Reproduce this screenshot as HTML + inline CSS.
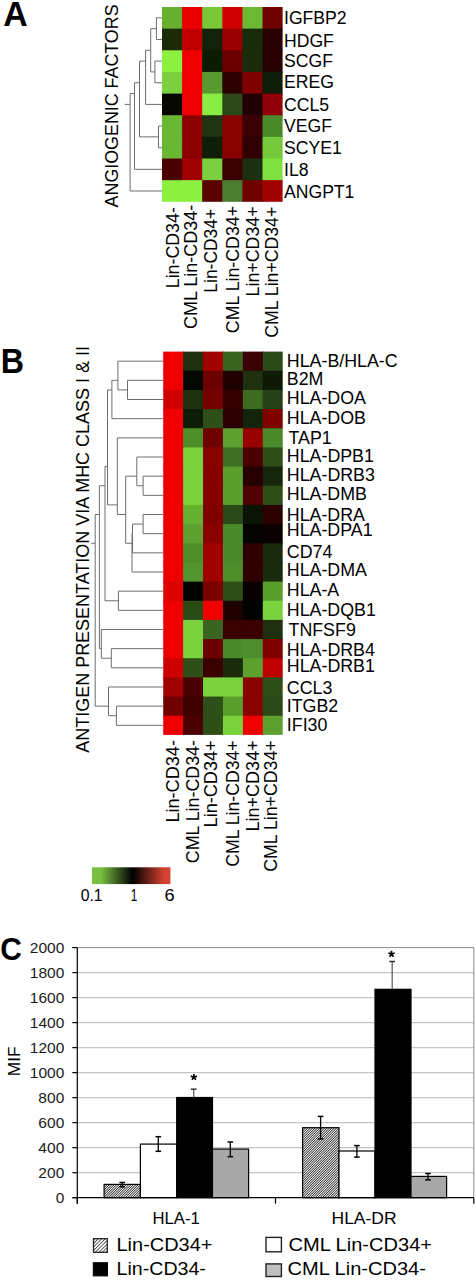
<!DOCTYPE html>
<html><head><meta charset="utf-8"><style>
html,body{margin:0;padding:0;background:#fff;}
svg{display:block;}
text{font-family:"Liberation Sans", sans-serif;}
</style></head><body>
<svg width="476" height="1280" viewBox="0 0 476 1280">
<rect width="476" height="1280" fill="#fff"/>
<rect x="162.00" y="7.00" width="21.10" height="22.64" fill="#68b030" />
<rect x="182.10" y="7.00" width="21.10" height="22.64" fill="#e60000" />
<rect x="202.20" y="7.00" width="21.10" height="22.64" fill="#78c836" />
<rect x="222.30" y="7.00" width="21.10" height="22.64" fill="#d00000" />
<rect x="242.40" y="7.00" width="21.10" height="22.64" fill="#6cb834" />
<rect x="262.50" y="7.00" width="20.10" height="22.64" fill="#700000" />
<rect x="162.00" y="28.64" width="21.10" height="22.64" fill="#1c2a08" />
<rect x="182.10" y="28.64" width="21.10" height="22.64" fill="#c00000" />
<rect x="202.20" y="28.64" width="21.10" height="22.64" fill="#12220a" />
<rect x="222.30" y="28.64" width="21.10" height="22.64" fill="#9a0000" />
<rect x="242.40" y="28.64" width="21.10" height="22.64" fill="#182c0c" />
<rect x="262.50" y="28.64" width="20.10" height="22.64" fill="#280004" />
<rect x="162.00" y="50.29" width="21.10" height="22.64" fill="#8cf040" />
<rect x="182.10" y="50.29" width="21.10" height="22.64" fill="#ee0000" />
<rect x="202.20" y="50.29" width="21.10" height="22.64" fill="#0c1c04" />
<rect x="222.30" y="50.29" width="21.10" height="22.64" fill="#6a0000" />
<rect x="242.40" y="50.29" width="21.10" height="22.64" fill="#1a2c0c" />
<rect x="262.50" y="50.29" width="20.10" height="22.64" fill="#260000" />
<rect x="162.00" y="71.93" width="21.10" height="22.64" fill="#7cd040" />
<rect x="182.10" y="71.93" width="21.10" height="22.64" fill="#ee0000" />
<rect x="202.20" y="71.93" width="21.10" height="22.64" fill="#5a9830" />
<rect x="222.30" y="71.93" width="21.10" height="22.64" fill="#2a0000" />
<rect x="242.40" y="71.93" width="21.10" height="22.64" fill="#800000" />
<rect x="262.50" y="71.93" width="20.10" height="22.64" fill="#0e1e08" />
<rect x="162.00" y="93.58" width="21.10" height="22.64" fill="#060800" />
<rect x="182.10" y="93.58" width="21.10" height="22.64" fill="#ee0000" />
<rect x="202.20" y="93.58" width="21.10" height="22.64" fill="#88ee44" />
<rect x="222.30" y="93.58" width="21.10" height="22.64" fill="#2c4818" />
<rect x="242.40" y="93.58" width="21.10" height="22.64" fill="#200004" />
<rect x="262.50" y="93.58" width="20.10" height="22.64" fill="#900008" />
<rect x="162.00" y="115.22" width="21.10" height="22.64" fill="#6ab832" />
<rect x="182.10" y="115.22" width="21.10" height="22.64" fill="#8a0000" />
<rect x="202.20" y="115.22" width="21.10" height="22.64" fill="#1e3410" />
<rect x="222.30" y="115.22" width="21.10" height="22.64" fill="#880000" />
<rect x="242.40" y="115.22" width="21.10" height="22.64" fill="#3a0004" />
<rect x="262.50" y="115.22" width="20.10" height="22.64" fill="#4a8a2a" />
<rect x="162.00" y="136.87" width="21.10" height="22.64" fill="#6ab832" />
<rect x="182.10" y="136.87" width="21.10" height="22.64" fill="#8a0000" />
<rect x="202.20" y="136.87" width="21.10" height="22.64" fill="#0e1e08" />
<rect x="222.30" y="136.87" width="21.10" height="22.64" fill="#880000" />
<rect x="242.40" y="136.87" width="21.10" height="22.64" fill="#2e0004" />
<rect x="262.50" y="136.87" width="20.10" height="22.64" fill="#74c83a" />
<rect x="162.00" y="158.51" width="21.10" height="22.64" fill="#4a0000" />
<rect x="182.10" y="158.51" width="21.10" height="22.64" fill="#a00000" />
<rect x="202.20" y="158.51" width="21.10" height="22.64" fill="#7cd040" />
<rect x="222.30" y="158.51" width="21.10" height="22.64" fill="#3a0000" />
<rect x="242.40" y="158.51" width="21.10" height="22.64" fill="#1a3010" />
<rect x="262.50" y="158.51" width="20.10" height="22.64" fill="#80e040" />
<rect x="162.00" y="180.16" width="21.10" height="21.64" fill="#8cf040" />
<rect x="182.10" y="180.16" width="21.10" height="21.64" fill="#8cf040" />
<rect x="202.20" y="180.16" width="21.10" height="21.64" fill="#5a0000" />
<rect x="222.30" y="180.16" width="21.10" height="21.64" fill="#4a7e2e" />
<rect x="242.40" y="180.16" width="21.10" height="21.64" fill="#700000" />
<rect x="262.50" y="180.16" width="20.10" height="21.64" fill="#a00000" />
<rect x="163.20" y="351.60" width="20.92" height="20.16" fill="#ee0000" />
<rect x="183.12" y="351.60" width="20.92" height="20.16" fill="#1e3010" />
<rect x="203.03" y="351.60" width="20.92" height="20.16" fill="#a00000" />
<rect x="222.95" y="351.60" width="20.92" height="20.16" fill="#3a6420" />
<rect x="242.87" y="351.60" width="20.92" height="20.16" fill="#3a0004" />
<rect x="262.78" y="351.60" width="19.92" height="20.16" fill="#2a4a1a" />
<rect x="163.20" y="370.77" width="20.92" height="20.16" fill="#ee0000" />
<rect x="183.12" y="370.77" width="20.92" height="20.16" fill="#040800" />
<rect x="203.03" y="370.77" width="20.92" height="20.16" fill="#6c0000" />
<rect x="222.95" y="370.77" width="20.92" height="20.16" fill="#1e0000" />
<rect x="242.87" y="370.77" width="20.92" height="20.16" fill="#1e3010" />
<rect x="262.78" y="370.77" width="19.92" height="20.16" fill="#0e1a06" />
<rect x="163.20" y="389.93" width="20.92" height="20.16" fill="#d00000" />
<rect x="183.12" y="389.93" width="20.92" height="20.16" fill="#1e3010" />
<rect x="203.03" y="389.93" width="20.92" height="20.16" fill="#760000" />
<rect x="222.95" y="389.93" width="20.92" height="20.16" fill="#360000" />
<rect x="242.87" y="389.93" width="20.92" height="20.16" fill="#3e6a22" />
<rect x="262.78" y="389.93" width="19.92" height="20.16" fill="#264018" />
<rect x="163.20" y="409.10" width="20.92" height="20.16" fill="#f00000" />
<rect x="183.12" y="409.10" width="20.92" height="20.16" fill="#0e1c08" />
<rect x="203.03" y="409.10" width="20.92" height="20.16" fill="#2e5018" />
<rect x="222.95" y="409.10" width="20.92" height="20.16" fill="#2a0000" />
<rect x="242.87" y="409.10" width="20.92" height="20.16" fill="#14240c" />
<rect x="262.78" y="409.10" width="19.92" height="20.16" fill="#800000" />
<rect x="163.20" y="428.26" width="20.92" height="20.16" fill="#ee0000" />
<rect x="183.12" y="428.26" width="20.92" height="20.16" fill="#4e8e28" />
<rect x="203.03" y="428.26" width="20.92" height="20.16" fill="#700000" />
<rect x="222.95" y="428.26" width="20.92" height="20.16" fill="#5ea030" />
<rect x="242.87" y="428.26" width="20.92" height="20.16" fill="#980000" />
<rect x="262.78" y="428.26" width="19.92" height="20.16" fill="#4a8a2a" />
<rect x="163.20" y="447.43" width="20.92" height="20.16" fill="#ee0000" />
<rect x="183.12" y="447.43" width="20.92" height="20.16" fill="#7ad23c" />
<rect x="203.03" y="447.43" width="20.92" height="20.16" fill="#880000" />
<rect x="222.95" y="447.43" width="20.92" height="20.16" fill="#3e6e22" />
<rect x="242.87" y="447.43" width="20.92" height="20.16" fill="#4a0000" />
<rect x="262.78" y="447.43" width="19.92" height="20.16" fill="#2e5018" />
<rect x="163.20" y="466.59" width="20.92" height="20.16" fill="#ee0000" />
<rect x="183.12" y="466.59" width="20.92" height="20.16" fill="#7ad23c" />
<rect x="203.03" y="466.59" width="20.92" height="20.16" fill="#860000" />
<rect x="222.95" y="466.59" width="20.92" height="20.16" fill="#5a9e2e" />
<rect x="242.87" y="466.59" width="20.92" height="20.16" fill="#260000" />
<rect x="262.78" y="466.59" width="19.92" height="20.16" fill="#16260c" />
<rect x="163.20" y="485.75" width="20.92" height="20.16" fill="#ee0000" />
<rect x="183.12" y="485.75" width="20.92" height="20.16" fill="#7ad23c" />
<rect x="203.03" y="485.75" width="20.92" height="20.16" fill="#860000" />
<rect x="222.95" y="485.75" width="20.92" height="20.16" fill="#5a9e2e" />
<rect x="242.87" y="485.75" width="20.92" height="20.16" fill="#500000" />
<rect x="262.78" y="485.75" width="19.92" height="20.16" fill="#2e5018" />
<rect x="163.20" y="504.92" width="20.92" height="20.16" fill="#ee0000" />
<rect x="183.12" y="504.92" width="20.92" height="20.16" fill="#66b030" />
<rect x="203.03" y="504.92" width="20.92" height="20.16" fill="#800000" />
<rect x="222.95" y="504.92" width="20.92" height="20.16" fill="#2a4a1a" />
<rect x="242.87" y="504.92" width="20.92" height="20.16" fill="#0a1404" />
<rect x="262.78" y="504.92" width="19.92" height="20.16" fill="#2a0000" />
<rect x="163.20" y="524.09" width="20.92" height="20.16" fill="#ee0000" />
<rect x="183.12" y="524.09" width="20.92" height="20.16" fill="#5ea030" />
<rect x="203.03" y="524.09" width="20.92" height="20.16" fill="#880000" />
<rect x="222.95" y="524.09" width="20.92" height="20.16" fill="#4a8a2a" />
<rect x="242.87" y="524.09" width="20.92" height="20.16" fill="#040400" />
<rect x="262.78" y="524.09" width="19.92" height="20.16" fill="#0a0000" />
<rect x="163.20" y="543.25" width="20.92" height="20.16" fill="#ee0000" />
<rect x="183.12" y="543.25" width="20.92" height="20.16" fill="#4e8e2a" />
<rect x="203.03" y="543.25" width="20.92" height="20.16" fill="#a00000" />
<rect x="222.95" y="543.25" width="20.92" height="20.16" fill="#4a8a2a" />
<rect x="242.87" y="543.25" width="20.92" height="20.16" fill="#300000" />
<rect x="262.78" y="543.25" width="19.92" height="20.16" fill="#1a2a0c" />
<rect x="163.20" y="562.41" width="20.92" height="20.16" fill="#ee0000" />
<rect x="183.12" y="562.41" width="20.92" height="20.16" fill="#529430" />
<rect x="203.03" y="562.41" width="20.92" height="20.16" fill="#a00000" />
<rect x="222.95" y="562.41" width="20.92" height="20.16" fill="#4e8e2a" />
<rect x="242.87" y="562.41" width="20.92" height="20.16" fill="#300000" />
<rect x="262.78" y="562.41" width="19.92" height="20.16" fill="#1a2a0c" />
<rect x="163.20" y="581.58" width="20.92" height="20.16" fill="#dd0000" />
<rect x="183.12" y="581.58" width="20.92" height="20.16" fill="#020400" />
<rect x="203.03" y="581.58" width="20.92" height="20.16" fill="#7a0000" />
<rect x="222.95" y="581.58" width="20.92" height="20.16" fill="#2e5018" />
<rect x="242.87" y="581.58" width="20.92" height="20.16" fill="#080000" />
<rect x="262.78" y="581.58" width="19.92" height="20.16" fill="#5a9e2e" />
<rect x="163.20" y="600.75" width="20.92" height="20.16" fill="#ee0000" />
<rect x="183.12" y="600.75" width="20.92" height="20.16" fill="#2a4a16" />
<rect x="203.03" y="600.75" width="20.92" height="20.16" fill="#ee0000" />
<rect x="222.95" y="600.75" width="20.92" height="20.16" fill="#1e0000" />
<rect x="242.87" y="600.75" width="20.92" height="20.16" fill="#020400" />
<rect x="262.78" y="600.75" width="19.92" height="20.16" fill="#7ad23c" />
<rect x="163.20" y="619.91" width="20.92" height="20.16" fill="#ee0000" />
<rect x="183.12" y="619.91" width="20.92" height="20.16" fill="#7ad23c" />
<rect x="203.03" y="619.91" width="20.92" height="20.16" fill="#3a6420" />
<rect x="222.95" y="619.91" width="20.92" height="20.16" fill="#3a0000" />
<rect x="242.87" y="619.91" width="20.92" height="20.16" fill="#3a0000" />
<rect x="262.78" y="619.91" width="19.92" height="20.16" fill="#1e3010" />
<rect x="163.20" y="639.08" width="20.92" height="20.16" fill="#ee0000" />
<rect x="183.12" y="639.08" width="20.92" height="20.16" fill="#7ad23c" />
<rect x="203.03" y="639.08" width="20.92" height="20.16" fill="#6a0000" />
<rect x="222.95" y="639.08" width="20.92" height="20.16" fill="#4a8a2a" />
<rect x="242.87" y="639.08" width="20.92" height="20.16" fill="#4e8e2c" />
<rect x="262.78" y="639.08" width="19.92" height="20.16" fill="#800000" />
<rect x="163.20" y="658.24" width="20.92" height="20.16" fill="#cc0000" />
<rect x="183.12" y="658.24" width="20.92" height="20.16" fill="#2e5018" />
<rect x="203.03" y="658.24" width="20.92" height="20.16" fill="#3a0000" />
<rect x="222.95" y="658.24" width="20.92" height="20.16" fill="#1a2c0c" />
<rect x="242.87" y="658.24" width="20.92" height="20.16" fill="#5ea030" />
<rect x="262.78" y="658.24" width="19.92" height="20.16" fill="#c00000" />
<rect x="163.20" y="677.40" width="20.92" height="20.16" fill="#a00000" />
<rect x="183.12" y="677.40" width="20.92" height="20.16" fill="#4a0000" />
<rect x="203.03" y="677.40" width="20.92" height="20.16" fill="#7ad23c" />
<rect x="222.95" y="677.40" width="20.92" height="20.16" fill="#7ad23c" />
<rect x="242.87" y="677.40" width="20.92" height="20.16" fill="#880000" />
<rect x="262.78" y="677.40" width="19.92" height="20.16" fill="#2e5018" />
<rect x="163.20" y="696.57" width="20.92" height="20.16" fill="#700000" />
<rect x="183.12" y="696.57" width="20.92" height="20.16" fill="#400000" />
<rect x="203.03" y="696.57" width="20.92" height="20.16" fill="#2e5018" />
<rect x="222.95" y="696.57" width="20.92" height="20.16" fill="#5a9e2e" />
<rect x="242.87" y="696.57" width="20.92" height="20.16" fill="#880000" />
<rect x="262.78" y="696.57" width="19.92" height="20.16" fill="#2a4a18" />
<rect x="163.20" y="715.74" width="20.92" height="19.16" fill="#ee0000" />
<rect x="183.12" y="715.74" width="20.92" height="19.16" fill="#4a0000" />
<rect x="203.03" y="715.74" width="20.92" height="19.16" fill="#2e5018" />
<rect x="222.95" y="715.74" width="20.92" height="19.16" fill="#7ad23c" />
<rect x="242.87" y="715.74" width="20.92" height="19.16" fill="#ee0000" />
<rect x="262.78" y="715.74" width="19.92" height="19.16" fill="#5ea030" />
<line x1="156.40" y1="17.82" x2="162.00" y2="17.82" stroke="#6e6e6e" stroke-width="1" />
<line x1="156.40" y1="39.47" x2="162.00" y2="39.47" stroke="#6e6e6e" stroke-width="1" />
<line x1="156.40" y1="17.82" x2="156.40" y2="39.47" stroke="#6e6e6e" stroke-width="1" />
<line x1="154.90" y1="61.11" x2="162.00" y2="61.11" stroke="#6e6e6e" stroke-width="1" />
<line x1="154.90" y1="82.76" x2="162.00" y2="82.76" stroke="#6e6e6e" stroke-width="1" />
<line x1="154.90" y1="61.11" x2="154.90" y2="82.76" stroke="#6e6e6e" stroke-width="1" />
<line x1="150.70" y1="28.64" x2="156.40" y2="28.64" stroke="#6e6e6e" stroke-width="1" />
<line x1="150.70" y1="71.93" x2="154.90" y2="71.93" stroke="#6e6e6e" stroke-width="1" />
<line x1="150.70" y1="28.64" x2="150.70" y2="71.93" stroke="#6e6e6e" stroke-width="1" />
<line x1="145.60" y1="50.29" x2="150.70" y2="50.29" stroke="#6e6e6e" stroke-width="1" />
<line x1="145.60" y1="104.40" x2="162.00" y2="104.40" stroke="#6e6e6e" stroke-width="1" />
<line x1="145.60" y1="50.29" x2="145.60" y2="104.40" stroke="#6e6e6e" stroke-width="1" />
<line x1="158.50" y1="126.04" x2="162.00" y2="126.04" stroke="#6e6e6e" stroke-width="1" />
<line x1="158.50" y1="147.69" x2="162.00" y2="147.69" stroke="#6e6e6e" stroke-width="1" />
<line x1="158.50" y1="126.04" x2="158.50" y2="147.69" stroke="#6e6e6e" stroke-width="1" />
<line x1="139.50" y1="61.11" x2="145.60" y2="61.11" stroke="#6e6e6e" stroke-width="1" />
<line x1="139.50" y1="136.87" x2="158.50" y2="136.87" stroke="#6e6e6e" stroke-width="1" />
<line x1="139.50" y1="61.11" x2="139.50" y2="136.87" stroke="#6e6e6e" stroke-width="1" />
<line x1="134.50" y1="82.76" x2="139.50" y2="82.76" stroke="#6e6e6e" stroke-width="1" />
<line x1="134.50" y1="169.33" x2="162.00" y2="169.33" stroke="#6e6e6e" stroke-width="1" />
<line x1="134.50" y1="82.76" x2="134.50" y2="169.33" stroke="#6e6e6e" stroke-width="1" />
<line x1="130.10" y1="93.58" x2="134.50" y2="93.58" stroke="#6e6e6e" stroke-width="1" />
<line x1="130.10" y1="190.98" x2="162.00" y2="190.98" stroke="#6e6e6e" stroke-width="1" />
<line x1="130.10" y1="93.58" x2="130.10" y2="190.98" stroke="#6e6e6e" stroke-width="1" />
<line x1="124.80" y1="104.40" x2="130.10" y2="104.40" stroke="#6e6e6e" stroke-width="1" />
<line x1="127.50" y1="380.35" x2="163.20" y2="380.35" stroke="#6e6e6e" stroke-width="1" />
<line x1="127.50" y1="399.51" x2="163.20" y2="399.51" stroke="#6e6e6e" stroke-width="1" />
<line x1="127.50" y1="380.35" x2="127.50" y2="399.51" stroke="#6e6e6e" stroke-width="1" />
<line x1="117.90" y1="361.18" x2="163.20" y2="361.18" stroke="#6e6e6e" stroke-width="1" />
<line x1="117.90" y1="389.93" x2="127.50" y2="389.93" stroke="#6e6e6e" stroke-width="1" />
<line x1="117.90" y1="361.18" x2="117.90" y2="389.93" stroke="#6e6e6e" stroke-width="1" />
<line x1="111.90" y1="380.35" x2="117.90" y2="380.35" stroke="#6e6e6e" stroke-width="1" />
<line x1="111.90" y1="418.68" x2="163.20" y2="418.68" stroke="#6e6e6e" stroke-width="1" />
<line x1="111.90" y1="380.35" x2="111.90" y2="418.68" stroke="#6e6e6e" stroke-width="1" />
<line x1="143.10" y1="476.17" x2="163.20" y2="476.17" stroke="#6e6e6e" stroke-width="1" />
<line x1="143.10" y1="495.34" x2="163.20" y2="495.34" stroke="#6e6e6e" stroke-width="1" />
<line x1="143.10" y1="476.17" x2="143.10" y2="495.34" stroke="#6e6e6e" stroke-width="1" />
<line x1="136.80" y1="457.01" x2="163.20" y2="457.01" stroke="#6e6e6e" stroke-width="1" />
<line x1="136.80" y1="485.75" x2="143.10" y2="485.75" stroke="#6e6e6e" stroke-width="1" />
<line x1="136.80" y1="457.01" x2="136.80" y2="485.75" stroke="#6e6e6e" stroke-width="1" />
<line x1="143.10" y1="514.50" x2="163.20" y2="514.50" stroke="#6e6e6e" stroke-width="1" />
<line x1="143.10" y1="533.67" x2="163.20" y2="533.67" stroke="#6e6e6e" stroke-width="1" />
<line x1="143.10" y1="514.50" x2="143.10" y2="533.67" stroke="#6e6e6e" stroke-width="1" />
<line x1="132.50" y1="524.09" x2="143.10" y2="524.09" stroke="#6e6e6e" stroke-width="1" />
<line x1="132.50" y1="552.83" x2="163.20" y2="552.83" stroke="#6e6e6e" stroke-width="1" />
<line x1="132.50" y1="524.09" x2="132.50" y2="552.83" stroke="#6e6e6e" stroke-width="1" />
<line x1="132.00" y1="533.67" x2="132.50" y2="533.67" stroke="#6e6e6e" stroke-width="1" />
<line x1="132.00" y1="572.00" x2="163.20" y2="572.00" stroke="#6e6e6e" stroke-width="1" />
<line x1="132.00" y1="533.67" x2="132.00" y2="572.00" stroke="#6e6e6e" stroke-width="1" />
<line x1="125.70" y1="476.17" x2="136.80" y2="476.17" stroke="#6e6e6e" stroke-width="1" />
<line x1="125.70" y1="543.25" x2="132.00" y2="543.25" stroke="#6e6e6e" stroke-width="1" />
<line x1="125.70" y1="476.17" x2="125.70" y2="543.25" stroke="#6e6e6e" stroke-width="1" />
<line x1="117.30" y1="437.84" x2="163.20" y2="437.84" stroke="#6e6e6e" stroke-width="1" />
<line x1="117.30" y1="514.50" x2="125.70" y2="514.50" stroke="#6e6e6e" stroke-width="1" />
<line x1="117.30" y1="437.84" x2="117.30" y2="514.50" stroke="#6e6e6e" stroke-width="1" />
<line x1="107.50" y1="389.93" x2="111.90" y2="389.93" stroke="#6e6e6e" stroke-width="1" />
<line x1="107.50" y1="504.92" x2="117.30" y2="504.92" stroke="#6e6e6e" stroke-width="1" />
<line x1="107.50" y1="389.93" x2="107.50" y2="504.92" stroke="#6e6e6e" stroke-width="1" />
<line x1="118.40" y1="591.16" x2="163.20" y2="591.16" stroke="#6e6e6e" stroke-width="1" />
<line x1="118.40" y1="610.33" x2="163.20" y2="610.33" stroke="#6e6e6e" stroke-width="1" />
<line x1="118.40" y1="591.16" x2="118.40" y2="610.33" stroke="#6e6e6e" stroke-width="1" />
<line x1="105.00" y1="466.59" x2="107.50" y2="466.59" stroke="#6e6e6e" stroke-width="1" />
<line x1="105.00" y1="600.75" x2="118.40" y2="600.75" stroke="#6e6e6e" stroke-width="1" />
<line x1="105.00" y1="466.59" x2="105.00" y2="600.75" stroke="#6e6e6e" stroke-width="1" />
<line x1="111.30" y1="648.66" x2="163.20" y2="648.66" stroke="#6e6e6e" stroke-width="1" />
<line x1="111.30" y1="667.82" x2="163.20" y2="667.82" stroke="#6e6e6e" stroke-width="1" />
<line x1="111.30" y1="648.66" x2="111.30" y2="667.82" stroke="#6e6e6e" stroke-width="1" />
<line x1="101.30" y1="629.49" x2="163.20" y2="629.49" stroke="#6e6e6e" stroke-width="1" />
<line x1="101.30" y1="658.24" x2="111.30" y2="658.24" stroke="#6e6e6e" stroke-width="1" />
<line x1="101.30" y1="629.49" x2="101.30" y2="658.24" stroke="#6e6e6e" stroke-width="1" />
<line x1="99.40" y1="485.75" x2="105.00" y2="485.75" stroke="#6e6e6e" stroke-width="1" />
<line x1="99.40" y1="648.66" x2="101.30" y2="648.66" stroke="#6e6e6e" stroke-width="1" />
<line x1="99.40" y1="485.75" x2="99.40" y2="648.66" stroke="#6e6e6e" stroke-width="1" />
<line x1="116.40" y1="706.15" x2="163.20" y2="706.15" stroke="#6e6e6e" stroke-width="1" />
<line x1="116.40" y1="725.32" x2="163.20" y2="725.32" stroke="#6e6e6e" stroke-width="1" />
<line x1="116.40" y1="706.15" x2="116.40" y2="725.32" stroke="#6e6e6e" stroke-width="1" />
<line x1="108.50" y1="686.99" x2="163.20" y2="686.99" stroke="#6e6e6e" stroke-width="1" />
<line x1="108.50" y1="715.74" x2="116.40" y2="715.74" stroke="#6e6e6e" stroke-width="1" />
<line x1="108.50" y1="686.99" x2="108.50" y2="715.74" stroke="#6e6e6e" stroke-width="1" />
<line x1="95.20" y1="514.50" x2="99.40" y2="514.50" stroke="#6e6e6e" stroke-width="1" />
<line x1="95.20" y1="706.15" x2="108.50" y2="706.15" stroke="#6e6e6e" stroke-width="1" />
<line x1="95.20" y1="514.50" x2="95.20" y2="706.15" stroke="#6e6e6e" stroke-width="1" />
<line x1="91.20" y1="543.25" x2="95.20" y2="543.25" stroke="#6e6e6e" stroke-width="1" />
<defs><linearGradient id="cb" x1="0" x2="1" y1="0" y2="0"><stop offset="0" stop-color="#7cc142"/><stop offset="0.12" stop-color="#78bc40"/><stop offset="0.52" stop-color="#000"/><stop offset="0.92" stop-color="#d4412f"/><stop offset="1" stop-color="#d8432f"/></linearGradient><pattern id="hatch" width="1.7" height="4" patternUnits="userSpaceOnUse" patternTransform="rotate(45)"><rect width="1.7" height="4" fill="#fff"/><rect width="0.8" height="4" fill="#262626"/></pattern><pattern id="hatch2" width="2.5" height="4" patternUnits="userSpaceOnUse" patternTransform="rotate(45)"><rect width="2.5" height="4" fill="#fff"/><rect width="0.75" height="4" fill="#2a2a2a"/></pattern></defs>
<rect x="91.90" y="867.30" width="78.50" height="16.80" fill="url(#cb)" />
<line x1="77.30" y1="1172.69" x2="473.80" y2="1172.69" stroke="#c4c4c4" stroke-width="1.3" />
<line x1="77.30" y1="1147.68" x2="473.80" y2="1147.68" stroke="#c4c4c4" stroke-width="1.3" />
<line x1="77.30" y1="1122.67" x2="473.80" y2="1122.67" stroke="#c4c4c4" stroke-width="1.3" />
<line x1="77.30" y1="1097.66" x2="473.80" y2="1097.66" stroke="#c4c4c4" stroke-width="1.3" />
<line x1="77.30" y1="1072.65" x2="473.80" y2="1072.65" stroke="#c4c4c4" stroke-width="1.3" />
<line x1="77.30" y1="1047.64" x2="473.80" y2="1047.64" stroke="#c4c4c4" stroke-width="1.3" />
<line x1="77.30" y1="1022.63" x2="473.80" y2="1022.63" stroke="#c4c4c4" stroke-width="1.3" />
<line x1="77.30" y1="997.62" x2="473.80" y2="997.62" stroke="#c4c4c4" stroke-width="1.3" />
<line x1="77.30" y1="972.61" x2="473.80" y2="972.61" stroke="#c4c4c4" stroke-width="1.3" />
<line x1="77.30" y1="947.60" x2="473.80" y2="947.60" stroke="#8c8c8c" stroke-width="1" />
<line x1="473.80" y1="947.60" x2="473.80" y2="1197.70" stroke="#8c8c8c" stroke-width="1" />
<rect x="104.10" y="1184.40" width="36.30" height="13.30" fill="url(#hatch)" stroke="#000" stroke-width="1.2"/>
<rect x="140.40" y="1144.10" width="36.30" height="53.60" fill="#fff" stroke="#000" stroke-width="1.2"/>
<rect x="176.70" y="1097.50" width="35.80" height="100.20" fill="#000" stroke="#000" stroke-width="1.2"/>
<rect x="212.50" y="1149.10" width="36.10" height="48.60" fill="#a8a8a8" stroke="#000" stroke-width="1.2"/>
<rect x="302.60" y="1127.70" width="36.40" height="70.00" fill="url(#hatch)" stroke="#000" stroke-width="1.2"/>
<rect x="339.00" y="1151.00" width="36.00" height="46.70" fill="#fff" stroke="#000" stroke-width="1.2"/>
<rect x="375.00" y="989.30" width="36.00" height="208.40" fill="#000" stroke="#000" stroke-width="1.2"/>
<rect x="411.00" y="1176.40" width="35.60" height="21.30" fill="#a8a8a8" stroke="#000" stroke-width="1.2"/>
<line x1="122.20" y1="1182.50" x2="122.20" y2="1186.80" stroke="#000" stroke-width="1.3" />
<line x1="119.40" y1="1182.50" x2="125.00" y2="1182.50" stroke="#000" stroke-width="1.5" />
<line x1="119.40" y1="1186.80" x2="125.00" y2="1186.80" stroke="#000" stroke-width="1.5" />
<line x1="158.30" y1="1136.70" x2="158.30" y2="1151.30" stroke="#000" stroke-width="1.3" />
<line x1="155.50" y1="1136.70" x2="161.10" y2="1136.70" stroke="#000" stroke-width="1.5" />
<line x1="155.50" y1="1151.30" x2="161.10" y2="1151.30" stroke="#000" stroke-width="1.5" />
<line x1="193.70" y1="1089.20" x2="193.70" y2="1097.50" stroke="#666" stroke-width="1.3" />
<line x1="190.90" y1="1089.20" x2="196.50" y2="1089.20" stroke="#333" stroke-width="1.5" />
<line x1="230.30" y1="1142.00" x2="230.30" y2="1156.70" stroke="#000" stroke-width="1.3" />
<line x1="227.50" y1="1142.00" x2="233.10" y2="1142.00" stroke="#000" stroke-width="1.5" />
<line x1="227.50" y1="1156.70" x2="233.10" y2="1156.70" stroke="#000" stroke-width="1.5" />
<line x1="320.60" y1="1116.40" x2="320.60" y2="1138.90" stroke="#000" stroke-width="1.3" />
<line x1="317.80" y1="1116.40" x2="323.40" y2="1116.40" stroke="#000" stroke-width="1.5" />
<line x1="317.80" y1="1138.90" x2="323.40" y2="1138.90" stroke="#000" stroke-width="1.5" />
<line x1="356.90" y1="1145.60" x2="356.90" y2="1157.10" stroke="#000" stroke-width="1.3" />
<line x1="354.10" y1="1145.60" x2="359.70" y2="1145.60" stroke="#000" stroke-width="1.5" />
<line x1="354.10" y1="1157.10" x2="359.70" y2="1157.10" stroke="#000" stroke-width="1.5" />
<line x1="392.20" y1="961.50" x2="392.20" y2="989.30" stroke="#666" stroke-width="1.3" />
<line x1="389.40" y1="961.50" x2="395.00" y2="961.50" stroke="#333" stroke-width="1.5" />
<line x1="428.00" y1="1173.50" x2="428.00" y2="1179.90" stroke="#000" stroke-width="1.3" />
<line x1="425.20" y1="1173.50" x2="430.80" y2="1173.50" stroke="#000" stroke-width="1.5" />
<line x1="425.20" y1="1179.90" x2="430.80" y2="1179.90" stroke="#000" stroke-width="1.5" />
<path d="M193.90,1077.20L193.90,1073.90M193.90,1077.20L197.04,1076.18M193.90,1077.20L195.84,1079.87M193.90,1077.20L191.96,1079.87M193.90,1077.20L190.76,1076.18" stroke="#000" stroke-width="1.7" fill="none"/>
<path d="M391.50,954.00L391.50,950.70M391.50,954.00L394.64,952.98M391.50,954.00L393.44,956.67M391.50,954.00L389.56,956.67M391.50,954.00L388.36,952.98" stroke="#000" stroke-width="1.7" fill="none"/>
<line x1="77.30" y1="947.60" x2="77.30" y2="1203.70" stroke="#000" stroke-width="1.2" />
<line x1="72.30" y1="1197.70" x2="473.80" y2="1197.70" stroke="#000" stroke-width="1.2" />
<line x1="72.30" y1="1197.70" x2="77.30" y2="1197.70" stroke="#000" stroke-width="1.2" />
<line x1="72.30" y1="1172.69" x2="77.30" y2="1172.69" stroke="#000" stroke-width="1.2" />
<line x1="72.30" y1="1147.68" x2="77.30" y2="1147.68" stroke="#000" stroke-width="1.2" />
<line x1="72.30" y1="1122.67" x2="77.30" y2="1122.67" stroke="#000" stroke-width="1.2" />
<line x1="72.30" y1="1097.66" x2="77.30" y2="1097.66" stroke="#000" stroke-width="1.2" />
<line x1="72.30" y1="1072.65" x2="77.30" y2="1072.65" stroke="#000" stroke-width="1.2" />
<line x1="72.30" y1="1047.64" x2="77.30" y2="1047.64" stroke="#000" stroke-width="1.2" />
<line x1="72.30" y1="1022.63" x2="77.30" y2="1022.63" stroke="#000" stroke-width="1.2" />
<line x1="72.30" y1="997.62" x2="77.30" y2="997.62" stroke="#000" stroke-width="1.2" />
<line x1="72.30" y1="972.61" x2="77.30" y2="972.61" stroke="#000" stroke-width="1.2" />
<line x1="72.30" y1="947.60" x2="77.30" y2="947.60" stroke="#000" stroke-width="1.2" />
<line x1="77.30" y1="1197.70" x2="77.30" y2="1203.70" stroke="#000" stroke-width="1.2" />
<line x1="275.50" y1="1197.70" x2="275.50" y2="1203.70" stroke="#000" stroke-width="1.2" />
<line x1="473.80" y1="1197.70" x2="473.80" y2="1203.70" stroke="#000" stroke-width="1.2" />
<rect x="93.50" y="1238.70" width="13.80" height="13.60" fill="url(#hatch2)" stroke="#222" stroke-width="1.3"/>
<rect x="93.30" y="1262.70" width="14.20" height="13.20" fill="#000" stroke="#000" stroke-width="1.0"/>
<rect x="266.00" y="1237.40" width="15.40" height="14.40" fill="#fff" stroke="#222" stroke-width="1.4"/>
<rect x="266.00" y="1263.90" width="15.40" height="12.60" fill="#c0c0c0" stroke="#222" stroke-width="1.4"/>
<text x="3.27" y="25.60" font-size="34.6" font-weight="bold" fill="#000" textLength="24.47" lengthAdjust="spacingAndGlyphs">A</text>
<text x="0.78" y="372.60" font-size="35.2" font-weight="bold" fill="#000" textLength="23.34" lengthAdjust="spacingAndGlyphs">B</text>
<text x="0.37" y="960.00" font-size="31" font-weight="bold" fill="#000" textLength="21.60" lengthAdjust="spacingAndGlyphs">C</text>
<text transform="translate(118.00,207.40) rotate(-90)" x="0.00" y="0" font-size="17.5" font-weight="normal" fill="#000" textLength="202.95" lengthAdjust="spacingAndGlyphs">ANGIOGENIC FACTORS</text>
<text transform="translate(89.00,752.70) rotate(-90)" x="0.00" y="0" font-size="17.5" font-weight="normal" fill="#000" textLength="406.62" lengthAdjust="spacingAndGlyphs">ANTIGEN PRESENTATION VIA MHC CLASS I &amp; II</text>
<text x="284.00" y="23.50" font-size="17.6" font-weight="normal" fill="#000" textLength="62.60" lengthAdjust="spacingAndGlyphs">IGFBP2</text>
<text x="284.00" y="46.60" font-size="17.6" font-weight="normal" fill="#000" textLength="49.86" lengthAdjust="spacingAndGlyphs">HDGF</text>
<text x="284.00" y="67.20" font-size="17.6" font-weight="normal" fill="#000" textLength="48.89" lengthAdjust="spacingAndGlyphs">SCGF</text>
<text x="284.00" y="88.20" font-size="17.6" font-weight="normal" fill="#000" textLength="49.88" lengthAdjust="spacingAndGlyphs">EREG</text>
<text x="284.00" y="110.90" font-size="17.6" font-weight="normal" fill="#000" textLength="45.00" lengthAdjust="spacingAndGlyphs">CCL5</text>
<text x="284.00" y="131.50" font-size="17.6" font-weight="normal" fill="#000" textLength="47.92" lengthAdjust="spacingAndGlyphs">VEGF</text>
<text x="284.00" y="153.60" font-size="17.6" font-weight="normal" fill="#000" textLength="57.72" lengthAdjust="spacingAndGlyphs">SCYE1</text>
<text x="284.00" y="175.60" font-size="17.6" font-weight="normal" fill="#000" textLength="24.47" lengthAdjust="spacingAndGlyphs">IL8</text>
<text x="284.00" y="197.50" font-size="17.6" font-weight="normal" fill="#000" textLength="70.42" lengthAdjust="spacingAndGlyphs">ANGPT1</text>
<text x="286.80" y="366.60" font-size="17.6" font-weight="normal" fill="#000" textLength="110.85" lengthAdjust="spacingAndGlyphs">HLA-B/HLA-C</text>
<text x="286.80" y="385.30" font-size="17.6" font-weight="normal" fill="#000" textLength="36.62" lengthAdjust="spacingAndGlyphs">B2M</text>
<text x="286.80" y="404.20" font-size="17.6" font-weight="normal" fill="#000" textLength="79.18" lengthAdjust="spacingAndGlyphs">HLA-DOA</text>
<text x="286.80" y="424.40" font-size="17.6" font-weight="normal" fill="#000" textLength="79.18" lengthAdjust="spacingAndGlyphs">HLA-DOB</text>
<text x="288.50" y="444.00" font-size="17.6" font-weight="normal" fill="#000" textLength="43.22" lengthAdjust="spacingAndGlyphs">TAP1</text>
<text x="286.80" y="462.20" font-size="17.6" font-weight="normal" fill="#000" textLength="87.11" lengthAdjust="spacingAndGlyphs">HLA-DPB1</text>
<text x="286.80" y="481.00" font-size="17.6" font-weight="normal" fill="#000" textLength="88.09" lengthAdjust="spacingAndGlyphs">HLA-DRB3</text>
<text x="286.80" y="500.40" font-size="17.6" font-weight="normal" fill="#000" textLength="80.16" lengthAdjust="spacingAndGlyphs">HLA-DMB</text>
<text x="286.80" y="520.50" font-size="17.6" font-weight="normal" fill="#000" textLength="78.18" lengthAdjust="spacingAndGlyphs">HLA-DRA</text>
<text x="286.80" y="535.60" font-size="17.6" font-weight="normal" fill="#000" textLength="85.79" lengthAdjust="spacingAndGlyphs">HLA-DPA1</text>
<text x="286.80" y="557.60" font-size="17.6" font-weight="normal" fill="#000" textLength="45.54" lengthAdjust="spacingAndGlyphs">CD74</text>
<text x="286.80" y="576.10" font-size="17.6" font-weight="normal" fill="#000" textLength="80.16" lengthAdjust="spacingAndGlyphs">HLA-DMA</text>
<text x="286.80" y="596.40" font-size="17.6" font-weight="normal" fill="#000" textLength="52.46" lengthAdjust="spacingAndGlyphs">HLA-A</text>
<text x="286.80" y="616.00" font-size="17.6" font-weight="normal" fill="#000" textLength="89.08" lengthAdjust="spacingAndGlyphs">HLA-DQB1</text>
<text x="288.50" y="635.90" font-size="17.6" font-weight="normal" fill="#000" textLength="67.29" lengthAdjust="spacingAndGlyphs">TNFSF9</text>
<text x="286.80" y="655.90" font-size="17.6" font-weight="normal" fill="#000" textLength="88.09" lengthAdjust="spacingAndGlyphs">HLA-DRB4</text>
<text x="286.80" y="672.10" font-size="17.6" font-weight="normal" fill="#000" textLength="88.09" lengthAdjust="spacingAndGlyphs">HLA-DRB1</text>
<text x="286.80" y="693.60" font-size="17.6" font-weight="normal" fill="#000" textLength="45.54" lengthAdjust="spacingAndGlyphs">CCL3</text>
<text x="286.80" y="711.50" font-size="17.6" font-weight="normal" fill="#000" textLength="51.47" lengthAdjust="spacingAndGlyphs">ITGB2</text>
<text x="286.80" y="731.40" font-size="17.6" font-weight="normal" fill="#000" textLength="40.59" lengthAdjust="spacingAndGlyphs">IFI30</text>
<text transform="translate(178.90,286.90) rotate(-90)" x="-1.39" y="0" font-size="17.5" font-weight="normal" fill="#000" textLength="81.13" lengthAdjust="spacingAndGlyphs">Lin-CD34-</text>
<text transform="translate(196.60,328.20) rotate(-90)" x="-0.84" y="0" font-size="17.5" font-weight="normal" fill="#000" textLength="124.39" lengthAdjust="spacingAndGlyphs">CML Lin-CD34-</text>
<text transform="translate(216.70,291.30) rotate(-90)" x="-1.36" y="0" font-size="17.5" font-weight="normal" fill="#000" textLength="83.81" lengthAdjust="spacingAndGlyphs">Lin-CD34+</text>
<text transform="translate(238.80,332.30) rotate(-90)" x="-0.83" y="0" font-size="17.5" font-weight="normal" fill="#000" textLength="127.18" lengthAdjust="spacingAndGlyphs">CML Lin-CD34+</text>
<text transform="translate(258.50,295.10) rotate(-90)" x="-1.39" y="0" font-size="17.5" font-weight="normal" fill="#000" textLength="90.15" lengthAdjust="spacingAndGlyphs">Lin+CD34+</text>
<text transform="translate(278.10,336.90) rotate(-90)" x="-0.82" y="0" font-size="17.5" font-weight="normal" fill="#000" textLength="130.98" lengthAdjust="spacingAndGlyphs">CML Lin+CD34+</text>
<text transform="translate(178.70,821.20) rotate(-90)" x="-1.42" y="0" font-size="17.5" font-weight="normal" fill="#000" textLength="82.57" lengthAdjust="spacingAndGlyphs">Lin-CD34-</text>
<text transform="translate(199.30,862.40) rotate(-90)" x="-0.83" y="0" font-size="17.5" font-weight="normal" fill="#000" textLength="123.17" lengthAdjust="spacingAndGlyphs">CML Lin-CD34-</text>
<text transform="translate(216.70,826.00) rotate(-90)" x="-1.42" y="0" font-size="17.5" font-weight="normal" fill="#000" textLength="87.09" lengthAdjust="spacingAndGlyphs">Lin-CD34+</text>
<text transform="translate(238.80,866.00) rotate(-90)" x="-0.82" y="0" font-size="17.5" font-weight="normal" fill="#000" textLength="126.48" lengthAdjust="spacingAndGlyphs">CML Lin-CD34+</text>
<text transform="translate(258.50,830.00) rotate(-90)" x="-1.41" y="0" font-size="17.5" font-weight="normal" fill="#000" textLength="91.07" lengthAdjust="spacingAndGlyphs">Lin+CD34+</text>
<text transform="translate(277.40,871.00) rotate(-90)" x="-0.83" y="0" font-size="17.5" font-weight="normal" fill="#000" textLength="131.48" lengthAdjust="spacingAndGlyphs">CML Lin+CD34+</text>
<text x="80.71" y="901.00" font-size="16.5" font-weight="normal" fill="#000" textLength="21.93" lengthAdjust="spacingAndGlyphs">0.1</text>
<text x="130.86" y="901.00" font-size="16.5" font-weight="normal" fill="#000" textLength="6.63" lengthAdjust="spacingAndGlyphs">1</text>
<text x="164.55" y="901.00" font-size="16.5" font-weight="normal" fill="#000" textLength="10.08" lengthAdjust="spacingAndGlyphs">6</text>
<text x="55.65" y="1202.70" font-size="15" font-weight="normal" fill="#1a1a1a" textLength="8.63" lengthAdjust="spacingAndGlyphs">0</text>
<text x="38.38" y="1177.69" font-size="15" font-weight="normal" fill="#1a1a1a" textLength="25.90" lengthAdjust="spacingAndGlyphs">200</text>
<text x="38.38" y="1152.68" font-size="15" font-weight="normal" fill="#1a1a1a" textLength="25.90" lengthAdjust="spacingAndGlyphs">400</text>
<text x="38.38" y="1127.67" font-size="15" font-weight="normal" fill="#1a1a1a" textLength="25.90" lengthAdjust="spacingAndGlyphs">600</text>
<text x="38.38" y="1102.66" font-size="15" font-weight="normal" fill="#1a1a1a" textLength="25.90" lengthAdjust="spacingAndGlyphs">800</text>
<text x="29.75" y="1077.65" font-size="15" font-weight="normal" fill="#1a1a1a" textLength="34.54" lengthAdjust="spacingAndGlyphs">1000</text>
<text x="29.75" y="1052.64" font-size="15" font-weight="normal" fill="#1a1a1a" textLength="34.54" lengthAdjust="spacingAndGlyphs">1200</text>
<text x="29.75" y="1027.63" font-size="15" font-weight="normal" fill="#1a1a1a" textLength="34.54" lengthAdjust="spacingAndGlyphs">1400</text>
<text x="29.75" y="1002.62" font-size="15" font-weight="normal" fill="#1a1a1a" textLength="34.54" lengthAdjust="spacingAndGlyphs">1600</text>
<text x="29.75" y="977.61" font-size="15" font-weight="normal" fill="#1a1a1a" textLength="34.54" lengthAdjust="spacingAndGlyphs">1800</text>
<text x="29.75" y="952.60" font-size="15" font-weight="normal" fill="#1a1a1a" textLength="34.54" lengthAdjust="spacingAndGlyphs">2000</text>
<text transform="translate(19.70,1074.90) rotate(-90)" x="-1.35" y="0" font-size="15.8" font-weight="normal" fill="#000" textLength="29.71" lengthAdjust="spacingAndGlyphs">MIF</text>
<text x="152.49" y="1223.90" font-size="17" font-weight="normal" fill="#000" textLength="47.38" lengthAdjust="spacingAndGlyphs">HLA-1</text>
<text x="331.53" y="1224.20" font-size="17" font-weight="normal" fill="#000" textLength="65.07" lengthAdjust="spacingAndGlyphs">HLA-DR</text>
<text x="116.54" y="1251.00" font-size="17.5" font-weight="normal" fill="#000" textLength="95.90" lengthAdjust="spacingAndGlyphs">Lin-CD34+</text>
<text x="116.57" y="1274.80" font-size="17.5" font-weight="normal" fill="#000" textLength="89.34" lengthAdjust="spacingAndGlyphs">Lin-CD34-</text>
<text x="288.46" y="1251.00" font-size="17.5" font-weight="normal" fill="#000" textLength="143.58" lengthAdjust="spacingAndGlyphs">CML Lin-CD34+</text>
<text x="287.47" y="1274.80" font-size="17.5" font-weight="normal" fill="#000" textLength="138.45" lengthAdjust="spacingAndGlyphs">CML Lin-CD34-</text>
</svg>
</body></html>
